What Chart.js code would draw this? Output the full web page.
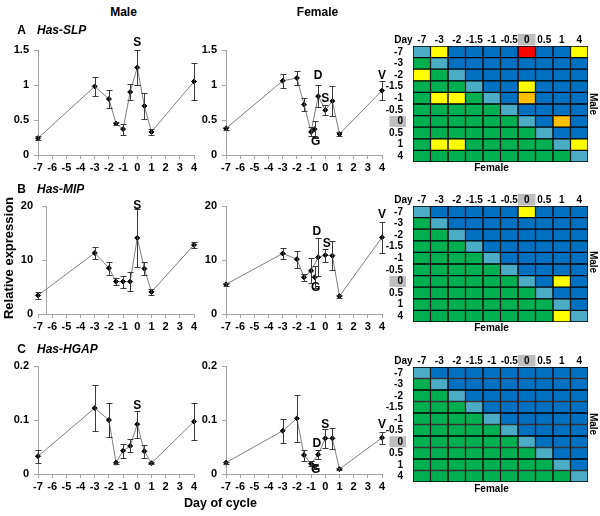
<!DOCTYPE html>
<html><head><meta charset="utf-8">
<script src="https://cdn.jsdelivr.net/npm/chart.js@4.4.1/dist/chart.umd.min.js"></script>
<style>
body{margin:0;background:#fff;}
#wrap{position:relative;width:600px;height:516px;overflow:hidden;font-family:"Liberation Sans",Arial,sans-serif;font-weight:bold;color:#000;background:#fff;}
canvas{position:absolute;}
.t{position:absolute;white-space:nowrap;transform:translate(-50%,-50%);line-height:1;}
.l{position:absolute;white-space:nowrap;transform:translate(0,-50%);line-height:1;}
</style></head><body><div id="wrap"></div>
<script>
// ---------- DATA ----------
const days = [-7, -3, -2, -1.5, -1, -0.5, 0, 0.5, 1, 4];
const gDay = -0.75;
const heatDays = ['-7', '-3', '-2', '-1.5', '-1', '-0.5', '0', '0.5', '1', '4'];

const slpMale      = [0.24, 0.98, 0.80, 0.45, 0.37, 0.90, 1.25, 0.70, 0.33, 1.05];
const slpMaleErr   = [0.03, 0.14, 0.13, 0.02, 0.08, 0.12, 0.25, 0.19, 0.04, 0.27];
const slpFemale    = [0.38, 1.06, 1.10, 0.72, 0.33, 0.84, 0.64, 0.77, 0.30, 0.92];
const slpFemaleErr = [0.02, 0.10, 0.10, 0.09, 0.065, 0.16, 0.07, 0.21, 0.03, 0.14];
const slpFemaleG = [0.37];
const slpFemaleGErr = [0.12];

const mipMale      = [3.45, 11.3, 8.5, 6.0, 6.0, 6.0, 14.1, 8.4, 4.1, 12.8];
const mipMaleErr   = [0.6, 1.2, 1.2, 0.6, 1.1, 1.7, 5.4, 1.2, 0.6, 0.5];
const mipFemale    = [5.5, 11.2, 10.15, 6.8, 8.0, 10.5, 10.9, 10.8, 3.3, 14.2];
const mipFemaleErr = [0.3, 1.0, 1.6, 0.7, 2.3, 3.5, 1.2, 2.7, 0.3, 2.9];
const mipFemaleG = [6.8];
const mipFemaleGErr = [2.0];

const hgapMale      = [0.033, 0.122, 0.100, 0.021, 0.043, 0.052, 0.092, 0.042, 0.020, 0.097];
const hgapMaleErr   = [0.012, 0.043, 0.031, 0.002, 0.013, 0.012, 0.025, 0.012, 0.002, 0.034];
const hgapFemale    = [0.021, 0.080, 0.103, 0.035, 0.019, 0.036, 0.066, 0.066, 0.009, 0.067];
const hgapFemaleErr = [0.002, 0.022, 0.043, 0.010, 0.005, 0.009, 0.018, 0.019, 0.002, 0.011];
const hgapFemaleG = [0.014];
const hgapFemaleGErr = [0.005];

// heatmap cells: rows = male day, columns = female day
// B = blue, L = light blue (diagonal), G = green, Y = yellow, O = orange, R = red
const slpHeat = ['LYBBBBRBBY','GLBBBBBBBB','YGLBBBBBBB','GGGLBBYBBB','GYYGLBOBBB',
                 'GGGGGLBBBB','GGGGGGLBOB','GGGGGGGLBB','GYYGGGGGLY','GGGGGGGGGL'];
const mipHeat = ['LBBBBBYBBB','GLBBBBBBBB','GGLBBBBBBB','GGGLBBBBBB','GGGGLBBBBB',
                 'GGGGGLBBBB','GGGGGGLBYB','GGGGGGGLBB','GGGGGGGGLB','GGGGGGGGYL'];
const hgapHeat = ['LBBBBBBBBB','GLBBBBBBBB','GGLBBBBBBB','GGGLBBBBBB','GGGGLBBBBB',
                  'GGGGGLBBBB','GGGGGGLBBB','GGGGGGGLBB','GGGGGGGGLB','GGGGGGGGGL'];

// ---------- STYLE ----------
const heatColors = {B:'#0070C0', L:'#4BACC6', G:'#00B050', Y:'#FFFF00', O:'#FFC000', R:'#FF0000'};
const FONT = '"Liberation Sans", Arial, sans-serif';
const AXIS = '#A6A6A6';
Chart.defaults.font.family = FONT;
Chart.defaults.font.weight = 'bold';
Chart.defaults.color = '#000';
Chart.defaults.animation = false;

const wrap = document.getElementById('wrap');
function addCanvas(l, t, w, h) {
  const c = document.createElement('canvas');
  c.width = Math.round(w); c.height = Math.round(h);
  c.style.left = Math.round(l) + 'px'; c.style.top = Math.round(t) + 'px';
  c.style.width = Math.round(w) + 'px'; c.style.height = Math.round(h) + 'px';
  wrap.appendChild(c);
  return c;
}
function addText(txt, x, y, size, extra, cls) {
  const d = document.createElement('div');
  d.className = cls || 't';
  d.textContent = txt;
  d.style.left = x + 'px'; d.style.top = y + 'px';
  d.style.fontSize = size + 'px';
  if (extra) Object.assign(d.style, extra);
  wrap.appendChild(d);
}

const errPlugin = {
  id: 'errbars',
  afterDatasetsDraw(chart) {
    const ctx = chart.ctx, xs = chart.scales.x, ys = chart.scales.y;
    ctx.save();
    ctx.strokeStyle = '#3a3a3a'; ctx.lineWidth = 1;
    chart.data.datasets.forEach(ds => {
      if (!ds.errors) return;
      ds.data.forEach((p, k) => {
        const e = ds.errors[k];
        if (!e) return;
        const px = Math.round(xs.getPixelForValue(p.x)) + 0.5;
        const y1 = Math.round(ys.getPixelForValue(p.y + e)) + 0.5;
        const y2 = Math.round(ys.getPixelForValue(p.y - e)) + 0.5;
        ctx.beginPath();
        ctx.moveTo(px, y1); ctx.lineTo(px, y2);
        ctx.moveTo(px - 3, y1); ctx.lineTo(px + 3, y1);
        ctx.moveTo(px - 3, y2); ctx.lineTo(px + 3, y2);
        ctx.stroke();
      });
    });
    ctx.restore();
  }
};
function notesPlugin(notes) {
  return {
    id: 'notes',
    afterDraw(chart) {
      const ctx = chart.ctx, xs = chart.scales.x, ys = chart.scales.y;
      ctx.save();
      ctx.font = 'bold 12px ' + FONT;
      ctx.fillStyle = '#000';
      ctx.textAlign = 'center'; ctx.textBaseline = 'middle';
      notes.forEach(n => ctx.fillText(n.t, xs.getPixelForValue(n.x), ys.getPixelForValue(n.y)));
      ctx.restore();
    }
  };
}
// vertical axis line drawn at a given x value (used where the y axis crosses away from -7)
function crossAxisPlugin(xVal) {
  return {
    id: 'crossaxis',
    beforeDatasetsDraw(chart) {
      const ctx = chart.ctx, xs = chart.scales.x, ys = chart.scales.y, a = chart.chartArea;
      const px = Math.round(xs.getPixelForValue(xVal)) + 0.5;
      ctx.save();
      ctx.strokeStyle = AXIS; ctx.lineWidth = 1;
      ctx.beginPath();
      ctx.moveTo(px, a.top); ctx.lineTo(px, a.bottom);
      ys.ticks.forEach(t => {
        const py = Math.round(ys.getPixelForValue(t.value)) + 0.5;
        ctx.moveTo(px - 4, py); ctx.lineTo(px, py);
      });
      ctx.stroke();
      ctx.restore();
    }
  };
}
const fmt = v => String(+(+v).toFixed(3));

function lineChart(area, yMax, yStep, main, mainErr, g, gErr, notes, crossX) {
  const YW = 32, XH = 22, PT = 16, PR = 10, PB = 2;
  const c = addCanvas(area.l - YW, area.t - PT, YW + area.r - area.l + PR, PT + area.b - area.t + XH + PB);
  const pt = {pointBackgroundColor:'#000', pointBorderColor:'#000', pointRadius:2.5, pointStyle:'rectRot', clip:false};
  const datasets = [Object.assign({
    data: days.map((d, i) => ({x: d, y: main[i]})), errors: mainErr,
    showLine: true, borderColor: '#7f7f7f', borderWidth: 1
  }, pt)];
  if (g) datasets.push(Object.assign({data: [{x: gDay, y: g[0]}], errors: gErr, showLine: false}, pt));
  const crossing = crossX !== undefined;
  const plugins = [errPlugin, notesPlugin(notes)];
  if (crossing) plugins.unshift(crossAxisPlugin(crossX));
  new Chart(c, {
    type: 'scatter',
    data: {datasets},
    options: {
      responsive: false, animation: false,
      layout: {padding: {top: PT, right: PR, bottom: PB, left: 0}},
      plugins: {legend: {display: false}, tooltip: {enabled: false}},
      scales: {
        x: {type: 'linear', min: -7, max: 4, afterFit: s => { s.height = XH; },
            ticks: {stepSize: 1, autoSkip: false, maxRotation: 0, padding: 2, callback: fmt,
                    font: {size: 11, weight: 'bold'}, color: '#000'},
            grid: {display: true, drawOnChartArea: false, tickLength: 4, color: AXIS},
            border: {color: AXIS}},
        y: {min: 0, max: yMax, afterFit: s => { s.width = YW; },
            ticks: {stepSize: yStep, padding: crossing ? 1 : 5, callback: fmt, font: {size: 11, weight: 'bold'}, color: '#000'},
            grid: {display: !crossing, drawOnChartArea: false, tickLength: 4, color: AXIS},
            border: {display: !crossing, color: AXIS}}
      }
    },
    plugins
  });
}

const colLabelPlugin = {
  id: 'collabels',
  afterDraw(chart) {
    const ctx = chart.ctx, xs = chart.scales.x, a = chart.chartArea;
    ctx.save();
    ctx.font = 'bold 10px ' + FONT;
    ctx.textAlign = 'center'; ctx.textBaseline = 'middle';
    heatDays.forEach((d, j) => {
      const x0 = xs.getPixelForValue(j), x1 = xs.getPixelForValue(j + 1);
      const cx = (x0 + x1) / 2;
      if (d === '0') {
        ctx.fillStyle = '#BFBFBF';
        ctx.fillRect(x0, a.top - 12, x1 - x0, 11.5);
      }
      ctx.fillStyle = '#000';
      ctx.fillText(d, cx, a.top - 6);
    });
    ctx.restore();
  }
};

function heatChart(area, rows) {
  const YW = 40, TH = 14, PR = 6, PB = 8;
  const c = addCanvas(area.l - YW, area.t - TH, YW + area.r - area.l + PR, TH + area.b - area.t + PB);
  const datasets = heatDays.map((d, j) => ({
    label: d, data: heatDays.map(() => 1),
    backgroundColor: rows.map(r => heatColors[r[j]]),
    borderColor: '#000', borderWidth: 1, borderSkipped: false,
    barPercentage: 1, categoryPercentage: 1
  }));
  const hl = ctx => (ctx.tick && ctx.tick.label === '0') ? '#BFBFBF' : 'rgba(0,0,0,0)';
  new Chart(c, {
    type: 'bar',
    data: {labels: heatDays, datasets},
    options: {
      indexAxis: 'y', responsive: false, animation: false,
      layout: {padding: {top: TH, right: PR, bottom: PB, left: 0}},
      plugins: {legend: {display: false}, tooltip: {enabled: false}},
      scales: {
        x: {type: 'linear', stacked: true, min: 0, max: 10, display: false},
        y: {stacked: true, afterFit: s => { s.width = YW; },
            grid: {display: false}, border: {display: false},
            ticks: {padding: 2, autoSkip: false, font: {size: 10, weight: 'bold'}, color: '#000',
                    showLabelBackdrop: true, backdropColor: hl,
                    backdropPadding: {left: 8, right: 3, top: -0.5, bottom: -0.5}}}
      }
    },
    plugins: [colLabelPlugin]
  });
}

// ---------- CHARTS ----------
lineChart({l:38, r:194, t:50, b:155}, 1.5, 0.5, slpMale, slpMaleErr, null, null, [{x:0, y:1.6, t:'S'}]);
lineChart({l:226, r:382, t:50, b:155}, 1.5, 0.5, slpFemale, slpFemaleErr, slpFemaleG, slpFemaleGErr,
  [{x:-0.5, y:1.13, t:'D'}, {x:0, y:0.8, t:'S'}, {x:-0.67, y:0.19, t:'G'}, {x:4, y:1.13, t:'V'}]);
lineChart({l:38, r:194, t:206, b:314}, 20, 10, mipMale, mipMaleErr, null, null, [{x:0, y:20, t:'S'}], -6.45);
lineChart({l:226, r:382, t:206, b:314}, 20, 10, mipFemale, mipFemaleErr, mipFemaleG, mipFemaleGErr,
  [{x:-0.6, y:15.25, t:'D'}, {x:0.1, y:13, t:'S'}, {x:-0.67, y:4.8, t:'G'}, {x:4, y:18.3, t:'V'}]);
lineChart({l:38, r:194, t:366, b:474}, 0.2, 0.1, hgapMale, hgapMaleErr, null, null, [{x:0, y:0.126, t:'S'}]);
lineChart({l:226, r:382, t:366, b:474}, 0.2, 0.1, hgapFemale, hgapFemaleErr, hgapFemaleG, hgapFemaleGErr,
  [{x:0, y:0.092, t:'S'}, {x:-0.6, y:0.057, t:'D'}, {x:-0.67, y:0.008, t:'G'}, {x:4, y:0.091, t:'V'}]);

heatChart({l:413, r:588, t:46, b:162}, slpHeat);
heatChart({l:413, r:588, t:206, b:322}, mipHeat);
heatChart({l:413, r:588, t:367, b:482}, hgapHeat);

// ---------- TEXT ----------
addText('Male', 123.5, 12, 12);
addText('Female', 317.5, 12, 12);
addText('A', 21.5, 29.5, 12);
addText('Has-SLP', 37, 29.5, 12, {fontStyle: 'italic'}, 'l');
addText('B', 21.5, 188.5, 12);
addText('Has-MIP', 37, 188.5, 12, {fontStyle: 'italic'}, 'l');
addText('C', 21.5, 349, 12);
addText('Has-HGAP', 37, 349, 12, {fontStyle: 'italic'}, 'l');
addText('Relative expression', 8, 258, 13, {transform: 'translate(-50%,-50%) rotate(-90deg)'});
addText('Day of cycle', 220.5, 503, 12.5);
[[40, 104, 168], [199.5, 262, 328], [361, 424, 488.5]].forEach(([dy, my, fy]) => {
  addText('Day', 403.5, dy, 10);
  addText('Male', 593, my, 10, {transform: 'translate(-50%,-50%) rotate(90deg)'});
  addText('Female', 491.5, fy, 10);
});
</script></body></html>
